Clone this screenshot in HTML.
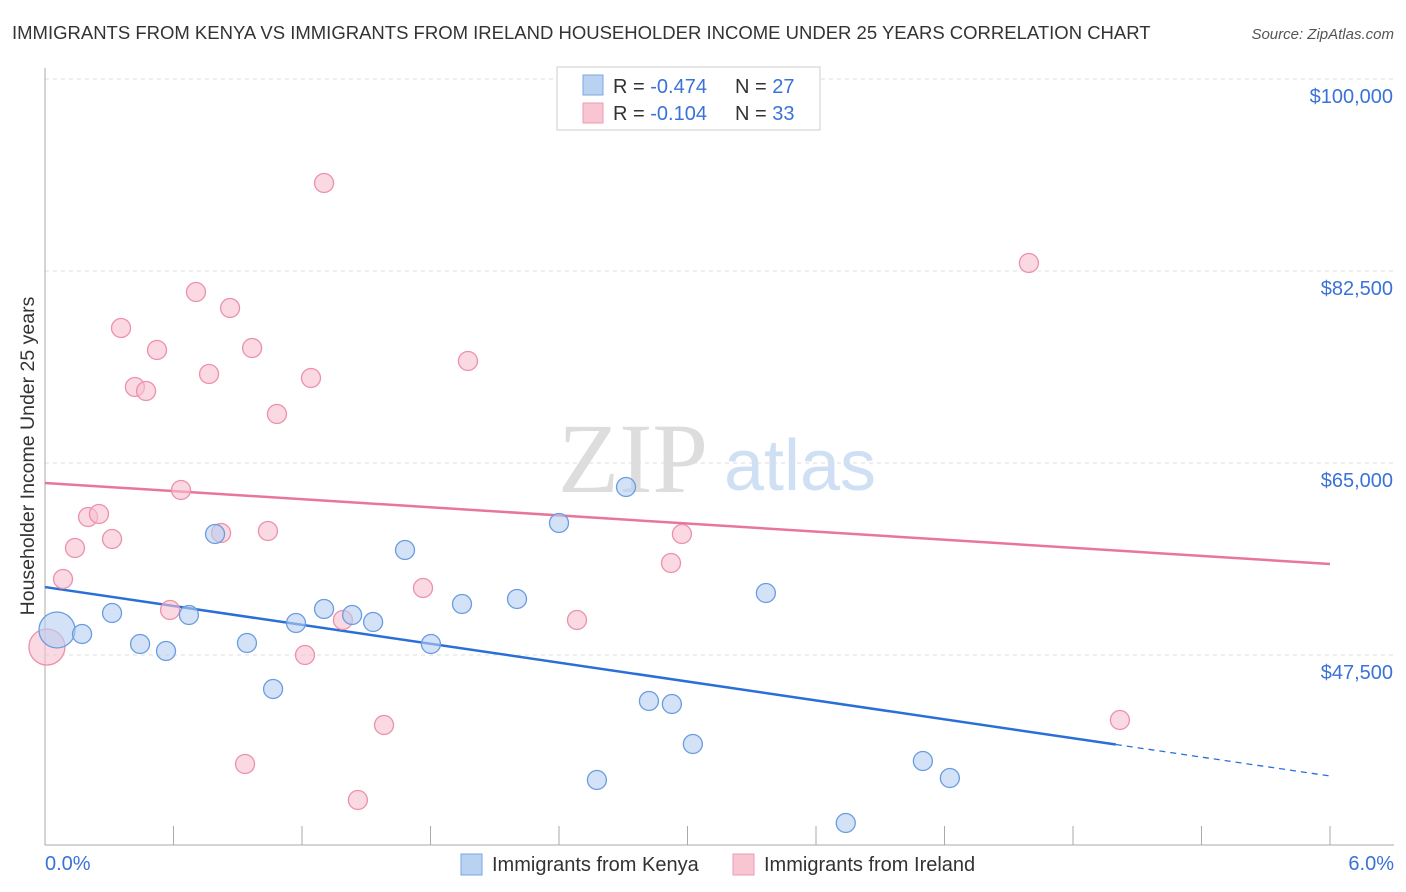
<!DOCTYPE html>
<html><head><meta charset="utf-8"><style>
body{margin:0;background:#fff;font-family:"Liberation Sans",sans-serif;}
svg{display:block}
</style></head><body>
<svg id="chart" width="1406" height="892">
<text x="12" y="39" font-size="18.5" fill="#333">IMMIGRANTS FROM KENYA VS IMMIGRANTS FROM IRELAND HOUSEHOLDER INCOME UNDER 25 YEARS CORRELATION CHART</text>
<text x="1394" y="39" font-size="15" fill="#555" font-style="italic" text-anchor="end">Source: ZipAtlas.com</text>
<text x="34" y="456" font-size="19.5" fill="#333" text-anchor="middle" transform="rotate(-90 34 456)">Householder Income Under 25 years</text>
<g><text x="633" y="492" font-size="100" fill="#ddd" font-family="Liberation Serif" text-anchor="middle">ZIP</text><text x="800" y="490" font-size="72" fill="#cfe0f5" text-anchor="middle">atlas</text></g>
<g id="grid"></g><g id="axes"></g><g id="trend"></g><g id="pts"></g>
<g>
<rect x="557" y="67" width="263" height="63" fill="#fff" stroke="#ccc"/>
<rect x="583" y="75" width="20" height="20" fill="#b9d2f2" stroke="#7aa6e0"/>
<text x="613" y="93" font-size="20" fill="#333">R = <tspan fill="#3a72d8">-0.474</tspan></text>
<text x="735" y="93" font-size="20" fill="#333">N = <tspan fill="#3a72d8">27</tspan></text>
<rect x="583" y="103" width="20" height="20" fill="#f8c5d3" stroke="#ee9ab2"/>
<text x="613" y="120" font-size="20" fill="#333">R = <tspan fill="#3a72d8">-0.104</tspan></text>
<text x="735" y="120" font-size="20" fill="#333">N = <tspan fill="#3a72d8">33</tspan></text>
</g>
<g>
<rect x="461" y="854" width="21" height="21" fill="#b9d2f2" stroke="#7aa6e0"/>
<text x="492" y="871" font-size="20" fill="#333">Immigrants from Kenya</text>
<rect x="733" y="854" width="21" height="21" fill="#f8c5d3" stroke="#ee9ab2"/>
<text x="764" y="871" font-size="20" fill="#333">Immigrants from Ireland</text>
</g>
</svg>
<script>
const yTicks=[47500,65000,82500,100000];
const yTickLabels=["$47,500","$65,000","$82,500","$100,000"];
const xTickLabels=["0.0%","6.0%"];
const kenyaX=[0.056,0.173,0.313,0.444,0.565,0.672,0.794,0.943,1.065,1.172,1.303,1.434,1.532,1.681,1.802,1.947,2.204,2.400,2.577,2.713,2.820,2.927,3.025,3.366,3.739,4.099,4.225];
const kenyaY=[49779,49414,51328,48503,47865,51146,58529,48594,44401,50417,51693,51146,50508,57070,48503,52148,52604,59531,36107,62812,43308,43034,39388,53151,32187,37838,36289];
const irelandX=[0.009,0.084,0.140,0.201,0.252,0.313,0.355,0.420,0.472,0.523,0.584,0.635,0.705,0.766,0.822,0.864,0.934,0.967,1.041,1.083,1.214,1.242,1.303,1.391,1.461,1.583,1.765,1.975,2.484,2.923,2.974,4.594,5.019];
const irelandY=[48229,54427,57253,60078,60352,58073,77305,71927,71562,75299,51602,62539,80586,73112,58620,79128,37565,75482,58802,69466,47500,72747,90521,50690,34284,41120,53607,74297,50690,55885,58529,83229,41576];
const kenyaTrend=[53693,36471];
const irelandTrend=[63177,55794];
const NS="http://www.w3.org/2000/svg";
const X=v=>45+v/6*1285;
const Y=v=>79+(100000-v)/17500*192;
function mk(tag,attrs,parent){const e=document.createElementNS(NS,tag);for(const k in attrs)e.setAttribute(k,attrs[k]);parent.appendChild(e);return e;}
const grid=document.getElementById('grid'),axes=document.getElementById('axes'),trend=document.getElementById('trend'),pts=document.getElementById('pts');
yTicks.forEach((t,i)=>{
 const l=mk('line',{x1:45,x2:1394,y1:Y(t),y2:Y(t),stroke:'#ddd','stroke-dasharray':'4,4'},grid);
 
 
 const tx=mk('text',{x:1393,y:Y(t)+24,'font-size':20,fill:'#3a72d8','text-anchor':'end'},axes);
 tx.textContent=yTickLabels[i];
 
 
});
const ax=mk('line',{x1:45,x2:45,y1:68,y2:845,stroke:'#aaa'},axes);


const bx=mk('line',{x1:45,x2:1394,y1:845,y2:845,stroke:'#aaa'},axes);


for(let i=0;i<=10;i++){const t=mk('line',{x1:X(i*0.6),x2:X(i*0.6),y1:826,y2:845,stroke:'#aaa'},axes);
 
 }
[[0,'start',45],[6,'end',1394]].forEach((d,i)=>{const t=mk('text',{x:d[2],y:870,'font-size':20,fill:'#3a72d8','text-anchor':d[1]},axes);t.textContent=xTickLabels[i];
 
 });
function drawPts(xs,ys,fill,stroke,name){xs.forEach((x,i)=>{const r=i===0?18:9.5;
 const c=mk('circle',{cx:X(x),cy:Y(ys[i]),r:r,fill:fill,'fill-opacity':0.6,stroke:stroke,'stroke-width':1.3},pts);
 
 });}
drawPts(irelandX,irelandY,'#f8c0d0','#ec90ab','ireland-point');
drawPts(kenyaX,kenyaY,'#b6cff2','#6a9ce0','kenya-point');
const kAt=x=>kenyaTrend[0]+(kenyaTrend[1]-kenyaTrend[0])*x/6;
const k1=mk('line',{x1:X(0),y1:Y(kAt(0)),x2:X(5.0),y2:Y(kAt(5.0)),stroke:'#2a6fd8','stroke-width':2.5},trend);


const k2=mk('line',{x1:X(5.0),y1:Y(kAt(5.0)),x2:X(6),y2:Y(kAt(6)),stroke:'#2a6fd8','stroke-width':1.3,'stroke-dasharray':'6,5'},trend);


const p1=mk('line',{x1:X(0),y1:Y(irelandTrend[0]),x2:X(6),y2:Y(irelandTrend[1]),stroke:'#e8769a','stroke-width':2.5},trend);


</script>
</body></html>
